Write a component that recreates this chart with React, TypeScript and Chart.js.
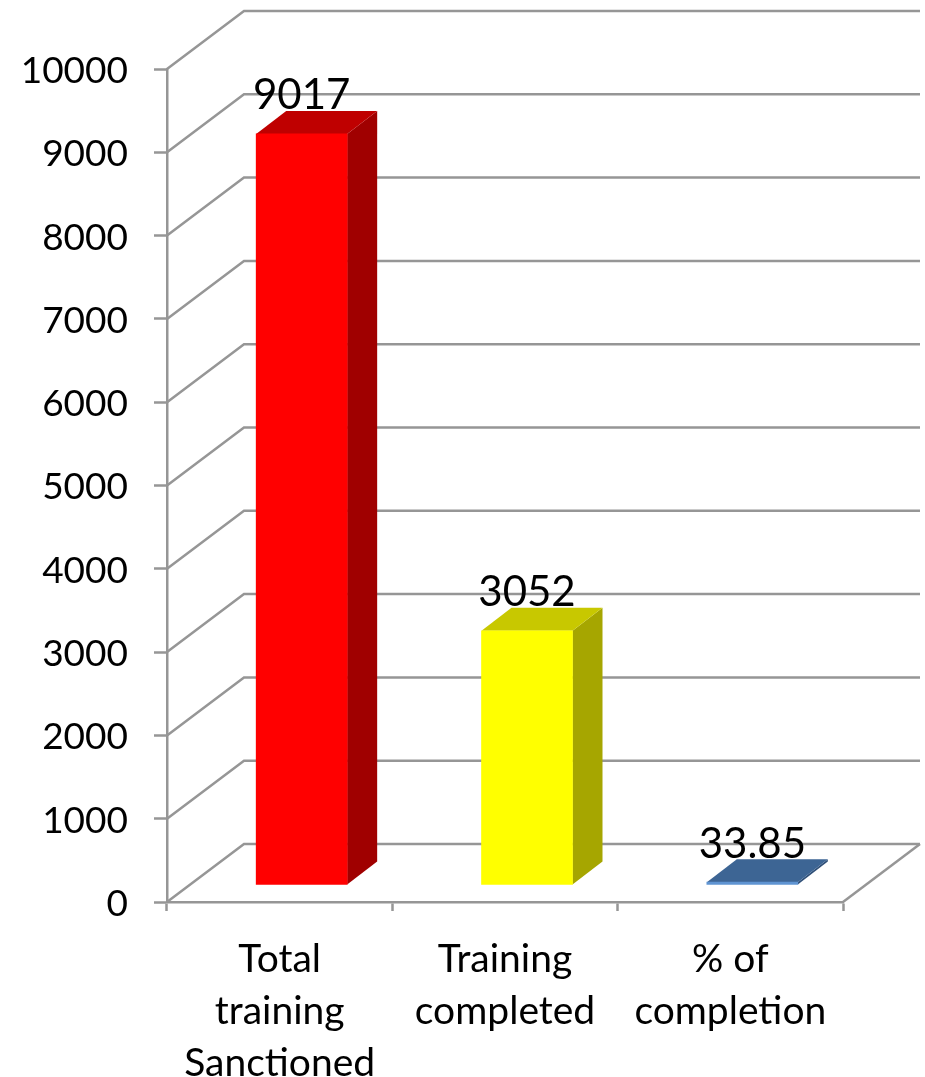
import React, { useEffect, useRef } from "react";
import { Chart, registerables } from "chart.js";

Chart.register(...registerables);

const categories = [["Total", "training", "Sanctioned"], ["Training", "completed"], ["% of", "completion"]];
const values = [9017, 3052, 33.85];
const frontColors = ["#ff0000", "#ffff00", "#5f94d2"];
const topColors = ["#bf0000", "#c8c800", "#3d6594"];
const sideColors = ["#a00000", "#a6a600", "#2f4f78"];
const labelTexts = ["9017", "3052", "33.85"];

const GRID = "#969696";
const FONT = "Lato, Carlito, sans-serif";
const WALL_DX = 77;
const WALL_DY = 58;
const BAR_DX = 22;
const BAR_DY = 17;
const SIDE_DX = 30;
const SIDE_DY = 23;

const threeD = {
  id: "threeD",
  afterUpdate(chart: any) {
    chart.scales.y.getLabelItems(chart.chartArea).forEach((item: any) => {
      item.options.translation[1] += 2;
    });
  },
  afterDatasetsUpdate(chart: any) {
    chart.getDatasetMeta(0).data.forEach((el: any) => {
      el.x += BAR_DX;
      el.y -= BAR_DY;
      el.base -= BAR_DY;
    });
  },
  beforeDatasetsDraw(chart: any) {
    const { ctx } = chart;
    const { x: xs, y: ys } = chart.scales;
    const left = xs.left;
    const right = xs.right;
    ctx.save();
    ctx.strokeStyle = GRID;
    ctx.lineWidth = 2.5;
    ys.ticks.forEach((t: any) => {
      const y = ys.getPixelForValue(t.value);
      ctx.beginPath();
      ctx.moveTo(left, y);
      ctx.lineTo(left + WALL_DX, y - WALL_DY);
      ctx.lineTo(right + WALL_DX, y - WALL_DY);
      ctx.stroke();
    });
    const y0 = ys.getPixelForValue(0);
    ctx.beginPath();
    ctx.moveTo(right, y0);
    ctx.lineTo(right + WALL_DX, y0 - WALL_DY);
    ctx.stroke();
    chart.getDatasetMeta(0).data.forEach((el: any, i: number) => {
      const hw = el.width / 2;
      const l = el.x - hw;
      const r = el.x + hw;
      ctx.fillStyle = sideColors[i];
      ctx.beginPath();
      ctx.moveTo(r, el.y);
      ctx.lineTo(r + SIDE_DX, el.y - SIDE_DY);
      ctx.lineTo(r + SIDE_DX, el.base - SIDE_DY);
      ctx.lineTo(r, el.base);
      ctx.closePath();
      ctx.fill();
      ctx.fillStyle = topColors[i];
      ctx.beginPath();
      ctx.moveTo(l, el.y);
      ctx.lineTo(l + SIDE_DX, el.y - SIDE_DY);
      ctx.lineTo(r + SIDE_DX, el.y - SIDE_DY);
      ctx.lineTo(r, el.y);
      ctx.closePath();
      ctx.fill();
    });
    ctx.restore();
  },
  afterDatasetsDraw(chart: any) {
    const { ctx } = chart;
    ctx.save();
    ctx.fillStyle = "#000000";
    ctx.font = `42px ${FONT}`;
    ctx.textAlign = "center";
    ctx.textBaseline = "middle";
    chart.getDatasetMeta(0).data.forEach((el: any, i: number) => {
      ctx.fillText(labelTexts[i], el.x, el.y - 38);
    });
    ctx.restore();
  },
};

export default function App() {
  const ref = useRef<HTMLCanvasElement>(null);
  useEffect(() => {
    const chart = new Chart(ref.current!, {
      type: "bar",
      data: {
        labels: categories as any,
        datasets: [
          {
            data: values,
            backgroundColor: frontColors,
            borderWidth: 0,
            barThickness: 91,
          },
        ],
      },
      options: {
        responsive: false,
        animation: false,
        layout: { padding: { top: 69, right: 82, left: 0, bottom: 0 } },
        plugins: { legend: { display: false }, title: { display: false }, tooltip: { enabled: false } },
        scales: {
          x: {
            offset: true,
            grid: { display: true, offset: true, drawOnChartArea: false, drawTicks: true, tickLength: 9, tickWidth: 2.5, tickColor: GRID },
            border: { display: true, color: GRID, width: 2.5 },
            ticks: {
              color: "#000000",
              padding: 22,
              maxRotation: 0,
              autoSkip: false,
              font: { family: FONT, size: 39, lineHeight: 1.34 },
            },
            afterFit: (s: any) => {
              s.height = 175;
            },
          },
          y: {
            min: 0,
            max: 10000,
            grid: { drawOnChartArea: false, drawTicks: true, tickLength: 13, tickWidth: 2.5, tickColor: GRID },
            border: { display: true, color: GRID, width: 2.5 },
            ticks: {
              stepSize: 1000,
              color: "#000000",
              padding: 26,
              font: { family: FONT, size: 37 },
              callback: (v: any) => String(v),
            },
            afterFit: (s: any) => {
              s.width = 167;
            },
          },
        },
      },
      plugins: [threeD],
    });
    return () => chart.destroy();
  }, []);
  return (
    <div style={{ position: "absolute", left: 0, top: 0, width: 925, height: 1077, background: "#ffffff" }}>
      <canvas ref={ref} width={925} height={1077} style={{ display: "block" }} />
    </div>
  );
}
